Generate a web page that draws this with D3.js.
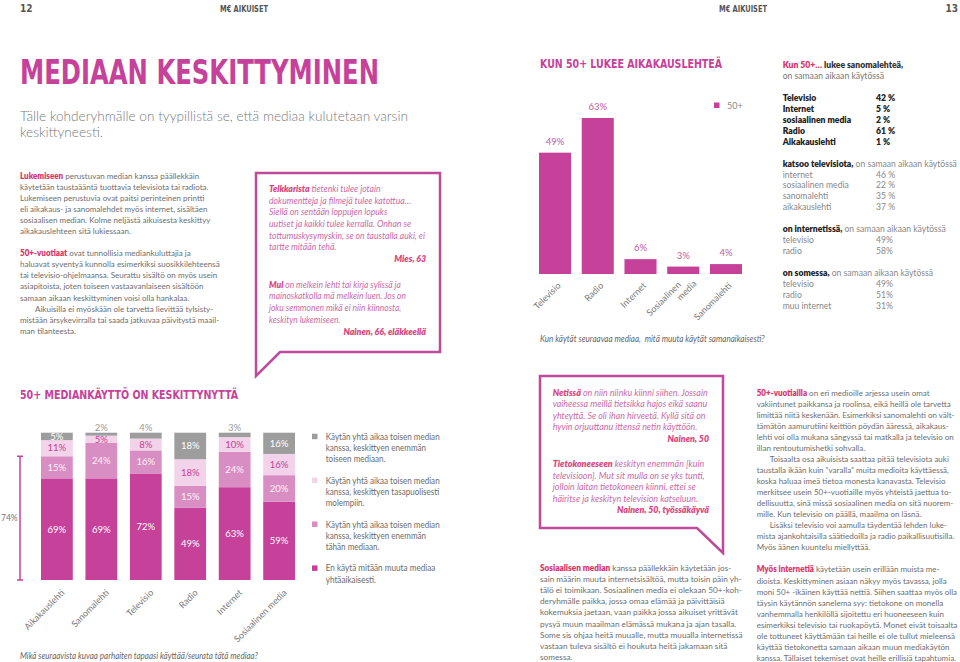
<!DOCTYPE html>
<html><head><meta charset="utf-8">
<script src="https://cdn.jsdelivr.net/npm/d3@7"></script>
<style>
html,body{margin:0;padding:0;background:#fff;}
svg{display:block;}
text{white-space:pre;}
</style></head><body>
<svg id="chart" width="960" height="662"></svg>
<script>
// ---------------- DATA ----------------
const topCategories = ["Televisio", "Radio", "Internet", "Sosiaalinen media", "Sanomalehti"];
const topValues = [49, 63, 6, 3, 4];
const topSeriesName = "50+";

const stackCategories = ["Aikakauslehti", "Sanomalehti", "Televisio", "Radio", "Internet", "Sosiaalinen media"];
const valuesNoOther   = [69, 69, 72, 49, 63, 59];   // En käytä mitään muuta mediaa
const valuesMoreThis  = [15, 24, 16, 15, 24, 20];   // enemmän tähän mediaan
const valuesEqual     = [11, 5, 8, 18, 10, 16];     // tasapuolisesti
const valuesMoreOther = [5, 2, 4, 18, 3, 16];       // enemmän toiseen mediaan
const stackKeys = ["none", "this", "equal", "other"];
const legendLabels = [
  ["Käytän yhtä aikaa toisen median", "kanssa, keskittyen enemmän", "toiseen mediaan."],
  ["Käytän yhtä aikaa toisen median", "kanssa, keskittyen tasapuolisesti", "molempiin."],
  ["Käytän yhtä aikaa toisen median", "kanssa, keskittyen enemmän", "tähän mediaan."],
  ["En käytä mitään muuta mediaa", "yhtäaikaisesti."]
];
const legendKeys = ["other", "equal", "this", "none"];
const concentratedLabel = "74%";

const newspaperRows = [["Televisio", "42 %"], ["Internet", "5 %"], ["sosiaalinen media", "2 %"], ["Radio", "61 %"], ["Aikakauslehti", "1 %"]];
const tvRows = [["internet", "46 %"], ["sosiaalinen media", "22 %"], ["sanomalehti", "35 %"], ["aikakauslehti", "37 %"]];
const internetRows = [["televisio", "49%"], ["radio", "58%"]];
const someRows = [["televisio", "49%"], ["radio", "51%"], ["muu internet", "31%"]];

// ---------------- STYLE ----------------
const svg = d3.select("#chart");
const FONT = "Lato, 'Open Sans', 'Noto Sans', sans-serif";
const COND = "'Liberation Sans Narrow', 'DejaVu Sans Condensed', Roboto, sans-serif";
const MAG = "#c6419a", RED = "#d8356b", GREY = "#6e6e6e";
const C_NONE = "#c6419a", C_THIS = "#d98ec3", C_EQUAL = "#f2d3e9", C_OTHER = "#9d9d9d";
const colorOf = {none: C_NONE, this: C_THIS, equal: C_EQUAL, other: C_OTHER};
const QLEAD = "#d8487f", QBODY = "#cc6aa6";

function para(lines, o) {
  const g = svg.append("g").attr("transform", `translate(${o.x},${o.y})`);
  const inner = g.append("g");
  const nodes = [];
  lines.forEach((ln, i) => {
    if (!ln) return;
    let indent = 0, s = ln;
    if (s[0] === ">") { indent = o.indent || 14; s = s.slice(1); }
    const t = inner.append("text").attr("y", i * o.lh)
      .attr("font-family", o.family || FONT).attr("font-size", o.size)
      .attr("font-weight", o.weight || 400).attr("font-style", o.style || "normal")
      .attr("fill", o.color);
    s.split("**").forEach((p, k) => {
      if (!p) return;
      const ts = t.append("tspan").text(p);
      if (k % 2) ts.attr("fill", o.lead).attr("font-weight", o.leadWeight || 800);
    });
    nodes.push({t, indent});
  });
  let sc = o.scale || 1;
  if (o.width) {
    const m = d3.max(nodes, n => n.t.node().getComputedTextLength() + n.indent);
    sc = o.width / m;
  }
  inner.attr("transform", `scale(${sc},1)`);
  nodes.forEach(n => n.t.attr("x", n.indent / sc));
  return sc;
}
function fitText(x, y, str, o) {
  return svg.append("text").attr("x", x).attr("y", y)
    .attr("font-family", o.family || FONT).attr("font-size", o.size)
    .attr("font-weight", o.weight || 400).attr("font-style", o.style || "normal")
    .attr("fill", o.color).attr("text-anchor", o.anchor || "start")
    .attr("textLength", o.len || null).attr("lengthAdjust", o.len ? "spacingAndGlyphs" : null)
    .text(str);
}

// ---------------- HEADERS ----------------
fitText(20, 12, "12", {family: COND, size: 10, weight: 700, color: "#555"});
fitText(220, 12, "M€ AIKUISET", {family: COND, size: 8.5, weight: 700, color: "#555", len: 48});
fitText(719, 12, "M€ AIKUISET", {family: COND, size: 8.5, weight: 700, color: "#555", len: 48});
fitText(958, 12, "13", {family: COND, size: 10, weight: 700, color: "#555", anchor: "end"});

fitText(20, 84, "MEDIAAN KESKITTYMINEN", {family: COND, size: 34, weight: 700, color: MAG, len: 359});
para(["Tälle kohderyhmälle on tyypillistä se, että mediaa kulutetaan varsin", "keskittyneesti."],
  {x: 20, y: 120.5, lh: 17, size: 14.5, weight: 300, color: "#7a7a7a", width: 388});

// ---------------- LEFT TEXT ----------------
para([
  "**Lukemiseen** perustuvan median kanssa päällekkäin",
  "käytetään taustaääntä tuottavia televisiota tai radiota.",
  "Lukemiseen perustuvia ovat paitsi perinteinen printti",
  "eli aikakaus- ja sanomalehdet myös internet, sisältäen",
  "sosiaalisen median. Kolme neljästä aikuisesta keskittyy",
  "aikakauslehteen sitä lukiessaan.",
  "",
  "**50+-vuotiaat** ovat tunnollisia mediankuluttajia ja",
  "haluavat syventyä kunnolla esimerkiksi suosikkilehteensä",
  "tai televisio-ohjelmaansa. Seurattu sisältö on myös usein",
  "asiapitoista, joten toiseen vastaavanlaiseen sisältöön",
  "samaan aikaan keskittyminen voisi olla hankalaa.",
  ">Aikuisilla ei myöskään ole tarvetta lievittää tylsisty-",
  "mistään ärsykevirralla tai saada jatkuvaa päivitystä maail-",
  "man tilanteesta."
], {x: 20, y: 179, lh: 11.05, size: 8.5, color: GREY, lead: RED, width: 200, indent: 15});

// ---------------- QUOTE BOX 1 ----------------
svg.append("path").attr("d", "M280,352 L440,352 L440,173 L256,173 L256,376 Z")
  .attr("fill", "#fff").attr("stroke", "#be4a9c").attr("stroke-width", 2.5).attr("stroke-linejoin", "miter");
para([
  "**Telkkarista** tietenki tulee jotain",
  "dokumentteja ja filmejä tulee katottua…",
  "Siellä on sentään loppujen lopuks",
  "uutiset ja kaikki tulee kerralla. Onhan se",
  "tottumuskysymyskin, se on taustalla auki, ei",
  "tartte mitään tehä."
], {x: 269, y: 192, lh: 11.7, size: 8.8, style: "italic", color: QBODY, lead: QLEAD, width: 156});
fitText(426, 262, "Mies, 63", {size: 8.8, weight: 800, style: "italic", color: QLEAD, anchor: "end"});
para([
  "**Mul** on melkein lehti tai kirja sylissä ja",
  "mainoskatkolla mä melkein luen. Jos on",
  "joku semmonen mikä ei niin kiinnosta,",
  "keskityn lukemiseen."
], {x: 269, y: 287.7, lh: 11.7, size: 8.8, style: "italic", color: QBODY, lead: QLEAD, width: 137});
fitText(426, 334.5, "Nainen, 66, eläkkeellä", {size: 8.8, weight: 800, style: "italic", color: QLEAD, anchor: "end"});

// ---------------- TOP BAR CHART ----------------
fitText(540, 68, "KUN 50+ LUKEE AIKAKAUSLEHTEÄ", {family: COND, size: 12, weight: 700, color: MAG, len: 182});
const xTop = d3.scaleBand().domain(topCategories).range([539, 742]).paddingInner(0.25).paddingOuter(0);
const yTop = d3.scaleLinear().domain([0, 63]).range([274, 118]);
const topData = topCategories.map((c, i) => ({c, v: topValues[i]}));
svg.append("g").selectAll("rect").data(topData).join("rect")
  .attr("x", d => xTop(d.c)).attr("y", d => yTop(d.v))
  .attr("width", xTop.bandwidth()).attr("height", d => yTop(0) - yTop(d.v)).attr("fill", MAG);
svg.append("g").selectAll("text").data(topData).join("text")
  .attr("x", d => xTop(d.c) + xTop.bandwidth() / 2).attr("y", d => yTop(d.v) - 8)
  .attr("text-anchor", "middle").attr("font-family", FONT).attr("font-size", 9.5).attr("fill", "#c25ba4")
  .text(d => d.v + "%");
// legend
svg.append("rect").attr("x", 714).attr("y", 102.5).attr("width", 5.5).attr("height", 5.5).attr("fill", MAG);
fitText(727, 108.5, topSeriesName, {size: 9, color: "#888"});
// axis
const axTop = svg.append("g").attr("transform", `translate(0,${yTop(0)})`)
  .call(d3.axisBottom(xTop).tickSize(0));
axTop.select(".domain").remove();
axTop.selectAll(".tick text").each(function(d) {
  const t = d3.select(this).text(null).attr("y", 0).attr("dy", null)
    .attr("text-anchor", "end").attr("font-family", FONT).attr("font-size", 9).attr("fill", "#777")
    .attr("transform", "translate(4,10) rotate(-45)");
  const parts = d.split(" ");
  if (parts.length > 1) {
    t.append("tspan").attr("x", -5).attr("dy", "-0.35em").text(parts[0]);
    t.append("tspan").attr("x", 7).attr("dy", "1.15em").text(parts[1]);
  } else {
    t.append("tspan").attr("x", 0).attr("dy", "0.35em").text(d);
  }
});
para(["Kun käytät seuraavaa mediaa,  mitä muuta käytät samanaikaisesti?"],
  {x: 540, y: 342, lh: 11, size: 8.6, style: "italic", color: "#666", width: 225});

// ---------------- RIGHT COLUMN ----------------
(function() {
  const x1 = 782.7, x2 = 876, y0 = 68, lh = 10.95, fs = 8.6;
  const hdr = svg.append("text").attr("x", x1).attr("y", y0).attr("font-family", FONT).attr("font-size", fs).attr("font-weight", 800);
  hdr.append("tspan").attr("fill", RED).text("Kun 50+…");
  hdr.append("tspan").attr("fill", "#333").text(" lukee sanomalehteä,");
  fitText(x1, y0 + lh, "on samaan aikaan käytössä", {size: fs, color: "#777"});
  newspaperRows.forEach((r, i) => {
    const y = y0 + (3 + i) * lh;
    fitText(x1, y, r[0], {size: fs, weight: 800, color: "#222"});
    fitText(x2, y, r[1], {size: fs, weight: 800, color: "#222"});
  });
  function section(start, title, rows) {
    const t = svg.append("text").attr("x", x1).attr("y", y0 + start * lh).attr("font-family", FONT).attr("font-size", fs);
    t.append("tspan").attr("font-weight", 800).attr("fill", "#222").text(title);
    t.append("tspan").attr("fill", "#888").text(" on samaan aikaan käytössä");
    rows.forEach((r, i) => {
      const y = y0 + (start + 1 + i) * lh;
      fitText(x1, y, r[0], {size: fs, color: "#888"});
      fitText(x2, y, r[1], {size: fs, color: "#888"});
    });
  }
  section(9, "katsoo televisiota,", tvRows);
  section(15, "on internetissä,", internetRows);
  section(19, "on somessa,", someRows);
})();

// ---------------- STACKED CHART ----------------
fitText(20, 399, "50+ MEDIANKÄYTTÖ ON KESKITTYNYTTÄ", {family: COND, size: 12, weight: 700, color: MAG, len: 218});
const stackData = stackCategories.map((c, i) => ({
  cat: c, none: valuesNoOther[i], this: valuesMoreThis[i], equal: valuesEqual[i], other: valuesMoreOther[i]
}));
const series = d3.stack().keys(stackKeys).offset(d3.stackOffsetExpand)(stackData);
const xS = d3.scaleBand().domain(stackCategories).range([41, 295]).paddingInner(0.285).paddingOuter(0);
const yS = d3.scaleLinear().domain([0, 1]).range([580, 432.7]);
const gS = svg.append("g");
series.forEach(s => {
  gS.append("g").selectAll("rect").data(s).join("rect")
    .attr("x", d => xS(d.data.cat)).attr("y", d => yS(d[1]))
    .attr("width", xS.bandwidth()).attr("height", d => yS(d[0]) - yS(d[1]))
    .attr("fill", colorOf[s.key]);
});
const labelColor = {none: "#fff", this: "#fdf2f9", equal: MAG, other: "#fff"};
series.forEach(s => {
  gS.append("g").selectAll("text").data(s).join("text")
    .attr("x", d => xS(d.data.cat) + xS.bandwidth() / 2)
    .attr("y", d => d.data[s.key] < 5 ? yS(1) - 1.5 : (yS(d[0]) + yS(d[1])) / 2)
    .attr("dy", d => d.data[s.key] < 5 ? null : "0.35em")
    .attr("text-anchor", "middle").attr("font-family", FONT).attr("font-size", 9.5)
    .attr("fill", d => d.data[s.key] < 5 ? "#9a9a9a" : labelColor[s.key])
    .text(d => d.data[s.key] + "%");
});
// 74% bracket
const bracketTop = yS(series[1][0][1]);
svg.append("line").attr("x1", 20).attr("x2", 20).attr("y1", bracketTop).attr("y2", yS(0)).attr("stroke", MAG).attr("stroke-width", 1.5);
[bracketTop, yS(0)].forEach(y => svg.append("line").attr("x1", 17).attr("x2", 23).attr("y1", y).attr("y2", y).attr("stroke", MAG).attr("stroke-width", 1.5));
fitText(1, (bracketTop + yS(0)) / 2 + 3, concentratedLabel, {size: 8.5, color: "#777"});
// axis
const axS = svg.append("g").attr("transform", `translate(0,${yS(0)})`).call(d3.axisBottom(xS).tickSize(0));
axS.select(".domain").remove();
axS.selectAll(".tick text").attr("y", 0).attr("dy", "0.35em").attr("x", 0)
  .attr("text-anchor", "end").attr("font-family", FONT).attr("font-size", 9).attr("fill", "#777")
  .attr("transform", "translate(6,11) rotate(-45)");
// legend
legendKeys.forEach((k, i) => {
  const yc = 436.7 + i * 43.9;
  svg.append("rect").attr("x", 312).attr("y", yc - 3).attr("width", 5.5).attr("height", 5.5).attr("fill", colorOf[k]);
  para(legendLabels[i], {x: 325.7, y: yc + 3, lh: 11.3, size: 8.8, color: "#6b6b6b", width: legendLabels[i][0].length > 29 ? 114 : null, scale: 0.93});
});
para(["Mikä seuraavista kuvaa parhaiten tapaasi käyttää/seurata tätä mediaa?"],
  {x: 20, y: 659, lh: 11, size: 8.6, style: "italic", color: "#666", width: 238});

// ---------------- QUOTE BOX 2 ----------------
svg.append("path").attr("d", "M540,376 L723,376 L723,553 L697,528 L540,528 Z")
  .attr("fill", "#fff").attr("stroke", "#be4a9c").attr("stroke-width", 2.5);
para([
  "**Netissä** on niin niinku kiinni siihen. Jossain",
  "vaiheessa meillä tietsikka hajos eikä saanu",
  "yhteyttä. Se oli ihan hirveetä. Kyllä sitä on",
  "hyvin orjuuttanu ittensä netin käyttöön."
], {x: 552.7, y: 395.7, lh: 11.6, size: 8.8, style: "italic", color: QBODY, lead: QLEAD, width: 155});
fitText(709, 442, "Nainen, 50", {size: 8.8, weight: 800, style: "italic", color: QLEAD, anchor: "end"});
para([
  "**Tietokoneeseen** keskityn enemmän [kuin",
  "televisioon]. Mut sit mulla on se yks tunti,",
  "jolloin laitan tietokoneen kiinni, ettei se",
  "häiritse ja keskityn television katseluun."
], {x: 552.7, y: 467, lh: 11.6, size: 8.8, style: "italic", color: QBODY, lead: QLEAD, width: 152});
fitText(709, 513.4, "Nainen, 50, työssäkäyvä", {size: 8.8, weight: 800, style: "italic", color: QLEAD, anchor: "end"});

// ---------------- BOTTOM TEXT COLUMNS ----------------
para([
  "**Sosiaalisen median** kanssa päällekkäin käytetään jos-",
  "sain määrin muuta internetsisältöä, mutta toisin päin yh-",
  "tälö ei toimikaan. Sosiaalinen media ei olekaan 50+-koh-",
  "deryhmälle paikka, jossa omaa elämää ja päivittäisiä",
  "kokemuksia jaetaan, vaan paikka jossa aikuiset yrittävät",
  "pysyä muun maailman elämässä mukana ja ajan tasalla.",
  "Some sis ohjaa heitä muualle, mutta muualla internetissä",
  "vastaan tuleva sisältö ei houkuta heitä jakamaan sitä",
  "somessa."
], {x: 540, y: 571.3, lh: 11.05, size: 8.5, color: GREY, lead: RED, width: 203});

para([
  "**50+-vuotiailla** on eri medioille arjessa usein omat",
  "vakiintunet paikkansa ja roolinsa, eikä heillä ole tarvetta",
  "limittää niitä keskenään. Esimerkiksi sanomalehti on vält-",
  "tämätön aamurutiini keittiön pöydän ääressä, aikakaus-",
  "lehti voi olla mukana sängyssä tai matkalla ja televisio on",
  "illan rentoutumishetki sohvalla.",
  ">Toisaalta osa aikuisista saattaa pitää televisiota auki",
  "taustalla ikään kuin ”varalla” muita medioita käyttäessä,",
  "koska haluaa imeä tietoa monesta kanavasta. Televisio",
  "merkitsee usein 50+-vuotiaille myös yhteistä jaettua to-",
  "dellisuutta, sinä missä sosiaalinen media on sitä nuorem-",
  "mille. Kun televisio on päällä, maailma on läsnä.",
  ">Lisäksi televisio voi aamulla täydentää lehden luke-",
  "mista ajankohtaisilla säätiedoilla ja radio paikallisuutisilla.",
  "Myös äänen kuuntelu miellyttää.",
  "",
  "**Myös internetiä** käytetään usein erillään muista me-",
  "dioista. Keskittyminen asiaan näkyy myös tavassa, jolla",
  "moni 50+ -ikäinen käyttää nettiä. Siihen saattaa myös olla",
  "täysin käytännön sanelema syy: tietokone on monella",
  "vanhemmalla henkilöllä sijoitettu eri huoneeseen kuin",
  "esimerkiksi televisio tai ruokapöytä. Monet eivät toisaalta",
  "ole tottuneet käyttämään tai heille ei ole tullut mieleensä",
  "käyttää tietokonetta samaan aikaan muun mediakäytön",
  "kanssa. Tällaiset tekemiset ovat heille erillisiä tapahtumia."
], {x: 756.7, y: 395.7, lh: 11.05, size: 8.5, color: GREY, lead: RED, width: 201, indent: 13});
</script>
</body></html>
